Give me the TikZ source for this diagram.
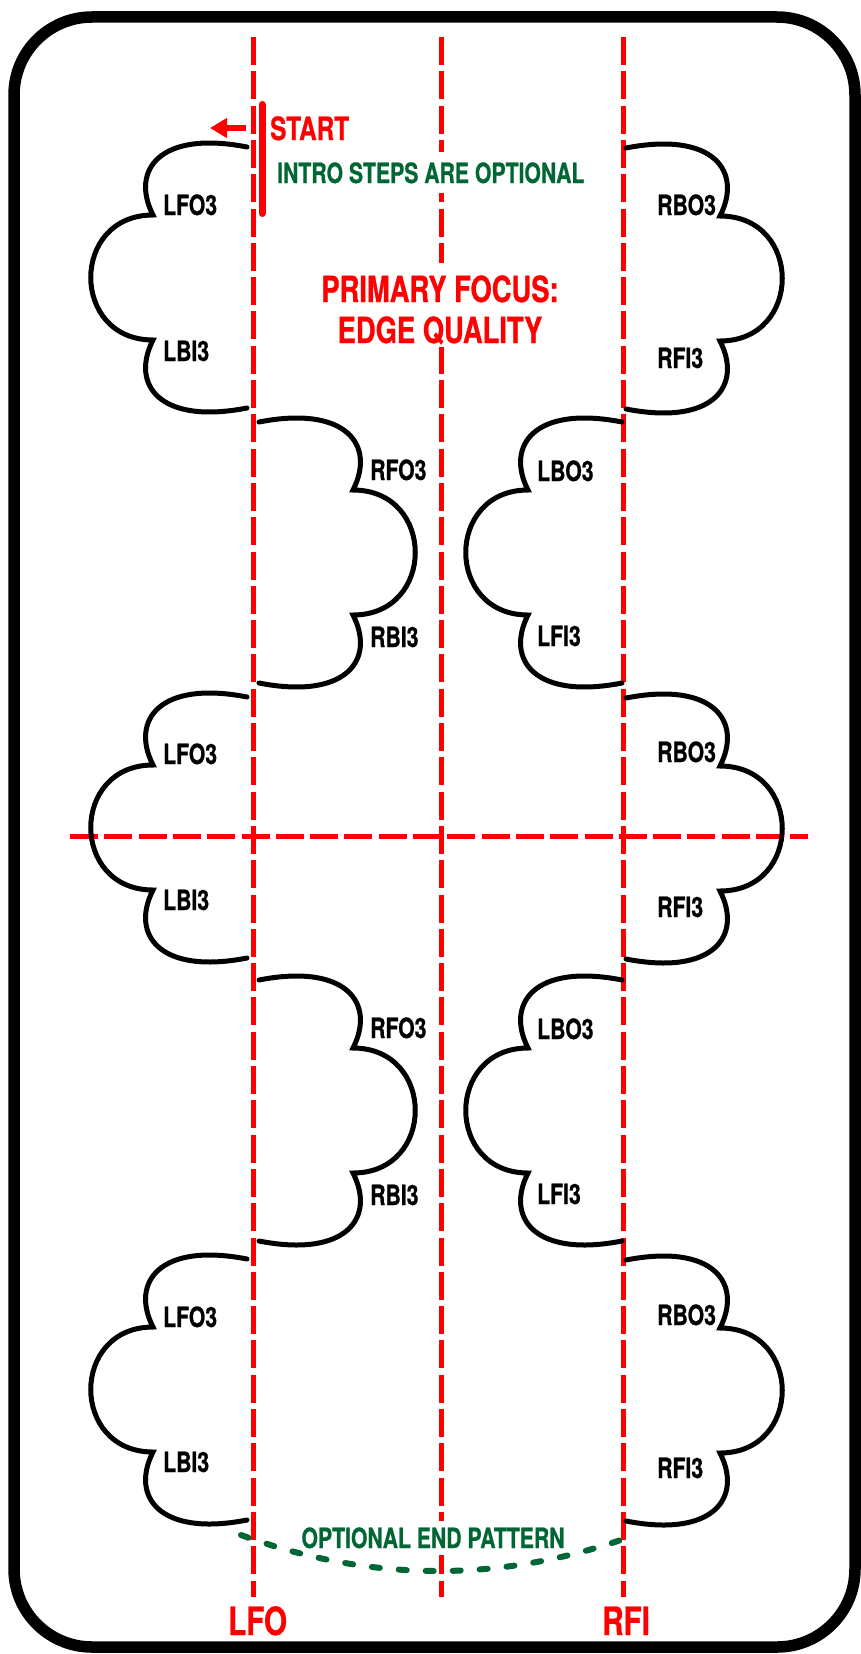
\documentclass[tikz,border=0pt]{standalone}
\usepackage{fontspec}
\usetikzlibrary{arrows.meta}
\newfontfamily\condf[FakeStretch=0.76, BoldFeatures={FakeBold=0.7}]{TeX Gyre Heros}
\definecolor{optgreen}{RGB}{0,102,51}
\begin{document}
\begin{tikzpicture}[x=1pt,y=-1pt,
  redline/.style={draw=red, line width=5pt, dash pattern=on 28pt off 6.3pt},
  cloudline/.style={draw=black, line width=5pt, line cap=round},
  lbl/.style={font=\condf\bfseries\fontsize{27.9}{30}\selectfont, anchor=base west, inner sep=0pt, text=black},
  skatecloud/.pic={\draw[cloudline] (0,0) .. controls (-87,-17) and (-117,23) .. (-94,68)
      .. controls (-177,68) and (-177,193) .. (-94,193)
      .. controls (-117,238) and (-87,278) .. (0,261);},
]
\useasboundingbox (0,0) rectangle (860,1654);
% outer frame
\draw[line width=11.5pt, rounded corners=78pt] (14,17) rectangle (855,1647);

% red dashed guide lines
\coordinate (lfoTop) at (253,37);   \coordinate (lfoBot) at (253,1597);
\coordinate (midTop) at (441,37);   \coordinate (midBot) at (441,1597);
\coordinate (rfiTop) at (623.5,37); \coordinate (rfiBot) at (623.5,1597);
\coordinate (hL) at (70,836);       \coordinate (hR) at (808,836);
\draw[redline] (lfoTop) -- (lfoBot);
\draw[redline] (midTop) -- (midBot);
\draw[redline] (rfiTop) -- (rfiBot);
\draw[redline] (hL) -- (hR);

% clouds
\pic at (247,147) {skatecloud};
\pic at (247,697) {skatecloud};
\pic at (247,1259) {skatecloud};
\pic[xscale=-1] at (259,422) {skatecloud};
\pic[xscale=-1] at (259,980) {skatecloud};
\pic at (622,422) {skatecloud};
\pic at (622,980) {skatecloud};
\pic[xscale=-1] at (626,148) {skatecloud};
\pic[xscale=-1] at (626,698) {skatecloud};
\pic[xscale=-1] at (626,1260) {skatecloud};

% labels
\node[lbl] (lfoA) at (163,215) {LFO3};
\node[lbl] (lbiA) at (163,361) {LBI3};
\node[lbl] (lfoC) at (163,764) {LFO3};
\node[lbl] (lbiC) at (163,910) {LBI3};
\node[lbl] (lfoE) at (163,1327) {LFO3};
\node[lbl] (lbiE) at (163,1472) {LBI3};
\node[lbl] (rfoB) at (370,480) {RFO3};
\node[lbl] (rbiB) at (370,647) {RBI3};
\node[lbl] (rfoD) at (370,1038) {RFO3};
\node[lbl] (rbiD) at (370,1205) {RBI3};
\node[lbl] (lboB) at (537,481) {LBO3};
\node[lbl] (lfiB) at (537,646) {LFI3};
\node[lbl] (lboD) at (537,1039) {LBO3};
\node[lbl] (lfiD) at (537,1204) {LFI3};
\node[lbl] (rboA) at (657,215) {RBO3};
\node[lbl] (rfiA) at (657,368) {RFI3};
\node[lbl] (rboC) at (657,762) {RBO3};
\node[lbl] (rfiC) at (657,917) {RFI3};
\node[lbl] (rboE) at (657,1325) {RBO3};
\node[lbl] (rfiE) at (657,1478) {RFI3};

% start marker
\coordinate (barT) at (262,104.5); \coordinate (barB) at (262,213.5);
\draw[red, line width=7pt, line cap=round] (barT) -- (barB);
\coordinate (arrS) at (246,128); \coordinate (arrE) at (210,128);
\draw[red, line width=6.5pt, -{Triangle[length=17pt,width=19pt]}] (arrS) -- (arrE);
\node[font=\condf\bfseries\fontsize{32}{34}\selectfont, text=red, anchor=base west, inner sep=0pt] (start) at (270,140) {START};
\node[font=\condf\bfseries\fontsize{27.9}{30}\selectfont, text=optgreen, anchor=base west, fill=white, inner xsep=3pt, inner ysep=10pt] (intro) at (274,183) {INTRO STEPS ARE OPTIONAL};

% primary focus
\node[font=\condf\bfseries\fontsize{36}{40}\selectfont, text=red, anchor=base, fill=white, inner xsep=2pt, inner ysep=12pt] (focus1) at (440,302) {PRIMARY FOCUS:};
\node[font=\condf\bfseries\fontsize{36}{40}\selectfont, text=red, anchor=base, fill=white, inner xsep=2pt, inner ysep=2pt] (focus2) at (440,343) {EDGE QUALITY};

% end pattern
\node[font=\condf\bfseries\fontsize{27.9}{30}\selectfont, text=optgreen, anchor=base, fill=white, inner xsep=0pt, inner ysep=6.5pt] (endtxt) at (433,1548) {OPTIONAL END PATTERN};
\coordinate (endL) at (241,1535); \coordinate (endR) at (635,1535);
\draw[optgreen, line width=6pt, line cap=round, dash pattern=on 8pt off 19pt] (endL) .. controls (372,1583) and (504,1583) .. (endR);

% line names
\node[font=\condf\bfseries\fontsize{39}{42}\selectfont, text=red, anchor=base west, inner sep=0pt] (lfoName) at (228,1635) {LFO};
\node[font=\condf\bfseries\fontsize{39}{42}\selectfont, text=red, anchor=base west, inner sep=0pt] (rfiName) at (602,1635) {RFI};
\end{tikzpicture}
\end{document}
